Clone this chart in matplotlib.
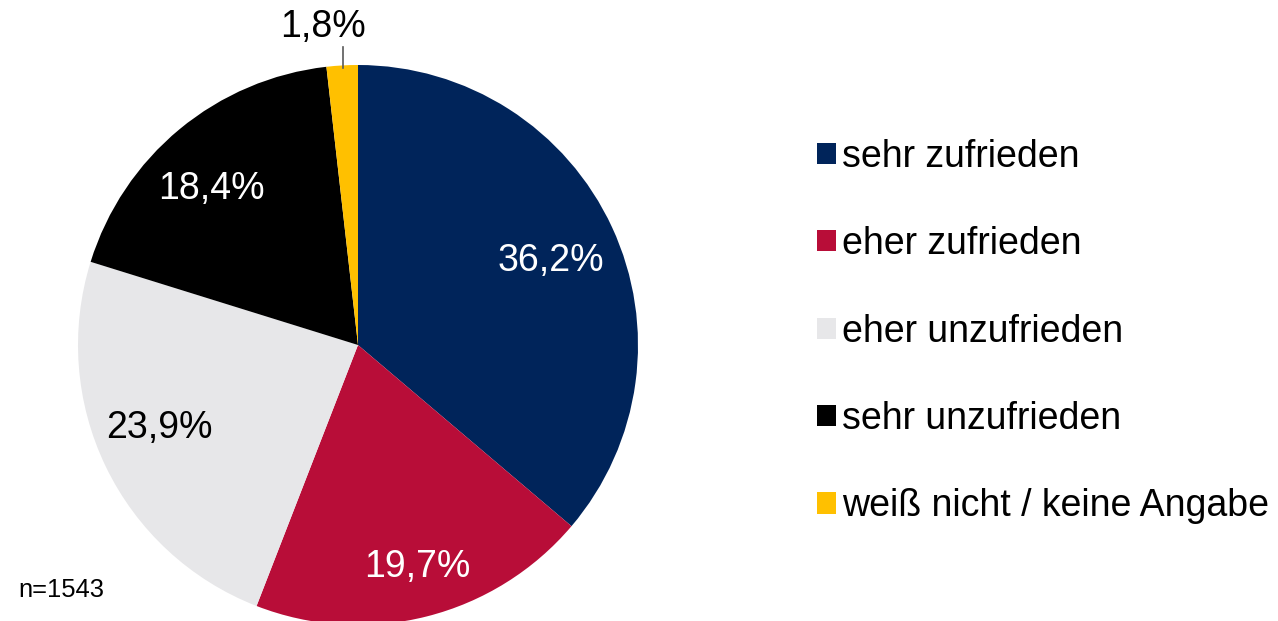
import matplotlib
matplotlib.use("Agg")
import matplotlib.pyplot as plt
from matplotlib.patches import Patch
import numpy as np

plt.rcParams['font.family'] = ['Liberation Sans', 'DejaVu Sans']

categories = ["sehr zufrieden", "eher zufrieden", "eher unzufrieden", "sehr unzufrieden", "weiß nicht / keine Angabe"]
values = [36.2, 19.7, 23.9, 18.4, 1.8]
labels = ["36,2%", "19,7%", "23,9%", "18,4%", "1,8%"]
colors = ["#00245a", "#b80d38", "#e7e7e9", "#000000", "#ffc000"]
label_colors = ["white", "white", "black", "white", "black"]
# label placement: radial distance (fraction of radius) and angular shift (deg) from wedge middle
label_dist = [0.738, 0.856, 0.784, 0.739, None]
label_shift = [-3.75, 0.0, -0.76, 5.37, None]
note = "n=1543"

W, H = 1278, 621
fig = plt.figure(figsize=(W / 100, H / 100), dpi=100)
cx, cy, R = 358, H - 345, 280
ax = fig.add_axes([(cx - R) / W, (cy - R) / H, 2 * R / W, 2 * R / H])
wedges, _ = ax.pie(values, colors=colors, startangle=90, counterclock=False,
                   radius=1.0, wedgeprops=dict(linewidth=0))
ax.set_xlim(-1, 1)
ax.set_ylim(-1, 1)
ax.set_aspect('equal')
ax.axis('off')

fs = 27
for w, lab, c, d, s in zip(wedges, labels, label_colors, label_dist, label_shift):
    if d is None:
        continue
    ang = np.deg2rad((w.theta1 + w.theta2) / 2 + s)
    ax.text(d * np.cos(ang), d * np.sin(ang), lab, ha='center', va='baseline',
            color=c, fontsize=fs)

# small slice label with leader line
ax.plot([-0.055, -0.055], [0.99, 1.064], color='#595959', lw=1.2, clip_on=False)
ax.text(-0.125, 1.1, labels[4], ha='center', va='baseline', fontsize=fs, clip_on=False)

handles = [Patch(facecolor=c, edgecolor='none') for c in colors]
leg = fig.legend(handles, categories, loc='center left', bbox_to_anchor=(817 / W, (H - 331.5) / H),
                 frameon=False, fontsize=fs, handlelength=0.5, handleheight=0.5,
                 handletextpad=0.17, labelspacing=1.373, borderpad=0, borderaxespad=0)

fig.text(18 / W, (H - 590) / H, note, fontsize=18.4, ha='left', va='center')

fig.savefig("out.png", dpi=100)
